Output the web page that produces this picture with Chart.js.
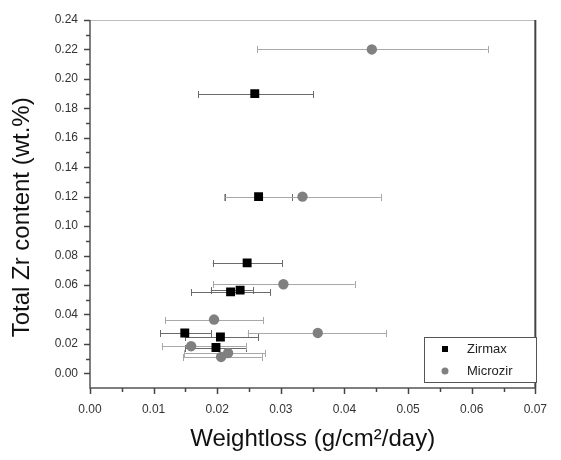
<!DOCTYPE html>
<html>
<head>
<meta charset="utf-8">
<script src="https://cdn.jsdelivr.net/npm/chart.js@4/dist/chart.umd.min.js"></script>
<style>
html,body{margin:0;padding:0;background:#fff;}
#wrap{width:561px;height:460px;}
</style>
</head>
<body>
<div id="wrap"><canvas id="c" width="561" height="460"></canvas></div>
<script>
// Tick values
const xTickValues = [0, 0.01, 0.02, 0.03, 0.04, 0.05, 0.06, 0.07];
const yTickValues = [0, 0.02, 0.04, 0.06, 0.08, 0.10, 0.12, 0.14, 0.16, 0.18, 0.20, 0.22, 0.24];
const seriesNames = ['Zirmax', 'Microzir'];

// Zirmax: weight loss (x), Zr content (y), error bar low/high (x)
const zirmaxX  = [0.0259, 0.0265, 0.0247, 0.0236, 0.0221, 0.0149, 0.0205, 0.0198];
const zirmaxY  = [0.190, 0.120, 0.075, 0.0565, 0.0553, 0.0274, 0.0247, 0.0175];
const zirmaxLo = [0.0170, 0.0212, 0.0193, 0.0190, 0.0159, 0.0110, 0.0149, 0.0150];
const zirmaxHi = [0.0351, 0.0318, 0.0302, 0.0256, 0.0283, 0.0190, 0.0264, 0.0246];

// Microzir
const microX  = [0.0443, 0.0334, 0.0304, 0.0195, 0.0358, 0.0159, 0.0217, 0.0206];
const microY  = [0.220, 0.120, 0.0605, 0.0365, 0.0274, 0.0184, 0.0138, 0.0111];
const microLo = [0.0263, 0.0211, 0.0194, 0.0118, 0.0248, 0.0113, 0.0148, 0.0146];
const microHi = [0.0625, 0.0457, 0.0416, 0.0272, 0.0466, 0.0245, 0.0275, 0.0270];

function pts(xs, ys, lo, hi) {
  return xs.map((x, i) => ({x: x, y: ys[i], lo: lo[i], hi: hi[i]}));
}

const errorBarPlugin = {
  id: 'errorBars',
  beforeDatasetsDraw(chart) {
    const ctx = chart.ctx;
    const xs = chart.scales.x, ys = chart.scales.y;
    ctx.save();
    chart.data.datasets.forEach((ds, di) => {
      ctx.strokeStyle = ds.errColor;
      ctx.lineWidth = 1;
      ds.data.forEach(p => {
        const y = Math.round(ys.getPixelForValue(p.y)) + 0.5;
        const x1 = xs.getPixelForValue(p.lo), x2 = xs.getPixelForValue(p.hi);
        ctx.beginPath();
        ctx.moveTo(x1, y); ctx.lineTo(x2, y);
        ctx.moveTo(Math.round(x1)+0.5, y - 3.5); ctx.lineTo(Math.round(x1)+0.5, y + 3.5);
        ctx.moveTo(Math.round(x2)+0.5, y - 3.5); ctx.lineTo(Math.round(x2)+0.5, y + 3.5);
        ctx.stroke();
      });
    });
    ctx.restore();
  }
};

const framePlugin = {
  id: 'frame',
  afterDatasetsDraw(chart) {
    const ctx = chart.ctx;
    const a = chart.chartArea;
    const xs = chart.scales.x, ys = chart.scales.y;
    ctx.save();
    // top border (light)
    ctx.strokeStyle = '#bdbdbd'; ctx.lineWidth = 1;
    ctx.beginPath(); ctx.moveTo(a.left, a.top + 0.5); ctx.lineTo(a.right, a.top + 0.5); ctx.stroke();
    // right border (dark, thick)
    ctx.strokeStyle = '#444'; ctx.lineWidth = 2;
    ctx.beginPath(); ctx.moveTo(a.right, a.top); ctx.lineTo(a.right, a.bottom); ctx.stroke();
    // left and bottom axes
    ctx.strokeStyle = '#555'; ctx.lineWidth = 1.5;
    ctx.beginPath(); ctx.moveTo(a.left, a.top); ctx.lineTo(a.left, a.bottom); ctx.lineTo(a.right, a.bottom); ctx.stroke();
    // x ticks (major + minor), outward
    ctx.lineWidth = 1.5; ctx.strokeStyle = '#444';
    for (let i = 0; i < xTickValues.length; i++) {
      const v = xTickValues[i];
      const px = Math.round(xs.getPixelForValue(v)) + 0.5;
      ctx.beginPath(); ctx.moveTo(px, a.bottom); ctx.lineTo(px, a.bottom + 6); ctx.stroke();
      if (i < xTickValues.length - 1) {
        const mv = (v + xTickValues[i + 1]) / 2;
        const mx = Math.round(xs.getPixelForValue(mv)) + 0.5;
        ctx.beginPath(); ctx.moveTo(mx, a.bottom); ctx.lineTo(mx, a.bottom + 4); ctx.stroke();
      }
    }
    // y ticks
    for (let i = 0; i < yTickValues.length; i++) {
      const v = yTickValues[i];
      const py = Math.round(ys.getPixelForValue(v)) + 0.5;
      ctx.beginPath(); ctx.moveTo(a.left, py); ctx.lineTo(a.left - 6, py); ctx.stroke();
      const mv = v - 0.01;
      const my = Math.round(ys.getPixelForValue(mv)) + 0.5;
      if (my <= a.bottom) { ctx.beginPath(); ctx.moveTo(a.left, my); ctx.lineTo(a.left - 4, my); ctx.stroke(); }
    }
    // legend box
    const lx = 424, ly = 337, lw = 112, lh = 45;
    ctx.fillStyle = '#fff'; ctx.fillRect(lx, ly, lw, lh);
    ctx.strokeStyle = '#555'; ctx.lineWidth = 1;
    ctx.strokeRect(lx + 0.5, ly + 0.5, lw, lh);
    ctx.fillStyle = '#000';
    ctx.fillRect(442, 346, 6, 6);
    ctx.fillStyle = '#808080';
    ctx.beginPath(); ctx.arc(445, 371, 3.5, 0, Math.PI * 2); ctx.fill();
    ctx.fillStyle = '#222';
    ctx.font = '13px "Liberation Sans", Arial, sans-serif';
    ctx.textBaseline = 'middle'; ctx.textAlign = 'left';
    ctx.fillText(seriesNames[0], 467, 349);
    ctx.fillText(seriesNames[1], 467, 371);
    ctx.restore();
  }
};

const tickFont = {family: '"Liberation Sans", Arial, sans-serif', size: 12};

new Chart(document.getElementById('c'), {
  type: 'scatter',
  data: {
    datasets: [
      {
        label: seriesNames[0],
        data: pts(zirmaxX, zirmaxY, zirmaxLo, zirmaxHi),
        pointStyle: 'rect', pointRadius: 6.3, pointHoverRadius: 6.3,
        backgroundColor: '#000', borderColor: '#000', borderWidth: 0,
        errColor: '#6a6a6a'
      },
      {
        label: seriesNames[1],
        data: pts(microX, microY, microLo, microHi),
        pointStyle: 'circle', pointRadius: 5.2, pointHoverRadius: 5.2,
        backgroundColor: '#808080', borderColor: '#808080', borderWidth: 0,
        errColor: '#a8a8a8'
      }
    ]
  },
  options: {
    responsive: false,
    animation: false,
    events: [],
    layout: {padding: {top: 20, right: 17, left: 0, bottom: 0}},
    plugins: {legend: {display: false}, tooltip: {enabled: false}},
    scales: {
      x: {
        type: 'linear', min: 0, max: 0.07,
        afterBuildTicks(s) { s.ticks = xTickValues.map(v => ({value: v})); },
        afterFit(s) { s.height = 72; },
        grid: {display: false, drawTicks: false},
        border: {display: false},
        ticks: {padding: 14, color: '#333', font: tickFont, maxRotation: 0,
          callback: v => v.toFixed(2)},
        title: {display: true, text: 'Weightloss (g/cm\u00B2/day)', color: '#111',
          font: {family: '"Liberation Sans", Arial, sans-serif', size: 24}, padding: {top: 0, bottom: 6}}
      },
      y: {
        type: 'linear', min: -0.01, max: 0.24,
        afterBuildTicks(s) { s.ticks = yTickValues.map(v => ({value: v})); },
        afterFit(s) { s.width = 90; },
        grid: {display: false, drawTicks: false},
        border: {display: false},
        ticks: {padding: 12, color: '#333', font: tickFont,
          callback: v => v.toFixed(2)},
        title: {display: true, text: 'Total Zr content (wt.%)\u00A0\u00A0\u00A0\u00A0', color: '#111',
          font: {family: '"Liberation Sans", Arial, sans-serif', size: 24}, padding: {top: 8, bottom: 0}}
      }
    }
  },
  plugins: [errorBarPlugin, framePlugin]
});
</script>
</body>
</html>
